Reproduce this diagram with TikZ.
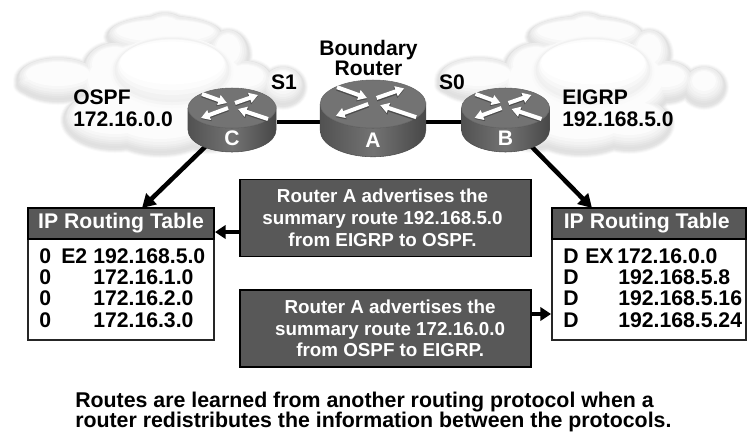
\documentclass[tikz,border=0pt]{standalone}
\usepackage{fontspec}
\setmainfont{Liberation Sans}[BoldFont={Liberation Sans Bold}]
\usetikzlibrary{arrows.meta,calc}
\lineskiplimit=-20pt
\definecolor{boxgray}{HTML}{585858}
\tikzset{
  x=0.75pt,y=-0.75pt,
  lbl/.style={font=\bfseries\fontsize{15.8}{16.5}\selectfont,align=left,text=black,inner sep=0pt},
  callout/.style={draw=black,line width=1.1pt,fill=boxgray,text=white,font=\bfseries\fontsize{14.1}{16.3}\selectfont,align=center,minimum width=218pt,minimum height=58pt,inner sep=0pt},
  link/.style={line width=3.4pt,draw=black},
  arr/.style={line width=3.4pt,draw=black,-{Triangle[length=10pt,width=11pt]}},
  shortarr/.style={line width=3.2pt,draw=black,-{Triangle[length=8pt,width=10pt]}},
  tablebody/.style={draw=black!85,line width=1.1pt,fill=white},
  tablehead/.style={draw=black,line width=1.1pt,fill=boxgray,text=white,font=\bfseries\fontsize{15.9}{17}\selectfont,minimum height=23.25pt,inner sep=0pt},
  rowtxt/.style={font=\bfseries\fontsize{15.9}{16}\selectfont,inner sep=0pt,anchor=base west},
  routertxt/.style={text=white,font=\bfseries\fontsize{15.8}{16}\selectfont},
  footnotetxt/.style={font=\bfseries\fontsize{16}{15}\selectfont,align=left,inner sep=0pt,anchor=west},
}
\newcommand{\cloudpuffs}[3]{%
  \begin{scope}[shift={(0,#2)}]
  \foreach \cx/\cy/\rx/\ry in {58/80/45/25, 40/85/27/14, 115/70/36/30, 165/37/62/24, 165/36/30/26, 228/55/25/28, 245/82/32/24, 283/87/25/23, 165/85/90/50, 115/120/55/33, 160/128/56/30, 208/124/46/30}{
    \fill[#3] (\cx,\cy) ellipse[x radius=\rx*0.75pt+#1*0.75pt,y radius=\ry*0.75pt+#1*0.75pt];
  }
  \end{scope}}
\newcommand{\softcloud}[2]{%
  \begin{scope}[shift={(#1,#2)}]
    \cloudpuffs{0}{0}{black!2}
    \cloudpuffs{-1}{0}{black!5}
    \cloudpuffs{-2}{0}{black!8}
    \cloudpuffs{-3}{0}{black!11}
    \cloudpuffs{-4}{-1}{black!12}
    \cloudpuffs{-5}{-2}{black!11}
    \cloudpuffs{-6}{-3}{black!9}
    \cloudpuffs{-7}{-4}{black!7}
    \cloudpuffs{-9}{-4}{black!5}
    \cloudpuffs{-11}{-5}{black!3}
    \cloudpuffs{-13}{-6}{black!1}
    \fill[black!2] (172,72) ellipse[x radius=46pt,y radius=27pt];
    \fill[black!4] (172,71) ellipse[x radius=44.5pt,y radius=25.5pt];
    \fill[black!6] (172,70) ellipse[x radius=43pt,y radius=24pt];
    \fill[black!5] (172,69) ellipse[x radius=42pt,y radius=23pt];
    \fill[black!3] (172,67) ellipse[x radius=41pt,y radius=21pt];
    \fill[black!1] (172,65) ellipse[x radius=40pt,y radius=19pt];
    \fill[white] (172,63) ellipse[x radius=39pt,y radius=16pt];
  \end{scope}}
\newcommand{\rarr}[2]{%
  \draw[black!70,line width=3.4pt,-{Triangle[length=7pt,width=8pt]}] ($(#1)+(0,1)$) -- ($(#2)+(0,1)$);
  \draw[white,line width=3pt,-{Triangle[length=6.5pt,width=7.5pt]}] (#1) -- (#2);}
\newcommand{\router}[5]{%
  \begin{scope}[shift={(#2,#3)},scale=#4]
    \path[left color=black!68,right color=black!72,middle color=black!55,draw=black!70,line width=0.4pt]
      (-44,20) -- (-44,42) arc[start angle=180,end angle=360,x radius=33pt,y radius=16.5pt] -- (44,20)
      arc[start angle=0,end angle=-180,x radius=33pt,y radius=15pt];
    \fill[black!55,draw=black!60,line width=0.4pt] (0,20) ellipse[x radius=33pt,y radius=15pt];
    \rarr{-30,6}{-5,15}
    \rarr{3,15}{26,7}
    \rarr{-4,20}{-31,30}
    \rarr{36,31}{6,21}
  \end{scope}
  \node[routertxt] (#1) at ($(#2,#3)+(0,50*#4)$) {#5};}
\begin{document}
\begin{tikzpicture}
\useasboundingbox (0,0) rectangle (748,433);
\fill[white] (0,0) rectangle (748,433);
\softcloud{0}{0}
\softcloud{421}{0}

\coordinate (ca) at (277,122);
\coordinate (ac) at (320,122);
\coordinate (ab) at (426,122);
\coordinate (ba) at (462,122);
\draw[link] (ca) -- (ac);
\draw[link] (ab) -- (ba);
\coordinate (cfoot) at (206,146);
\coordinate (bfoot) at (531,146);

\draw[tablebody] (28,208) rectangle (214,340);
\node[tablehead,minimum width=139.5pt] (lt) at (121,223.5) {IP Routing Table};
\draw[tablebody] (552,208) rectangle (746,340);
\node[tablehead,minimum width=145.5pt] (rt) at (649,223.5) {\kern-3.5pt IP Routing Table};
\foreach \nm/\yy/\aa/\cc in {2/284/0/172.16.1.0,3/305/0/172.16.2.0,4/327/0/172.16.3.0}{
  \node[rowtxt] (la\nm) at (39,\yy) {\aa};
  \node[rowtxt] (lc\nm) at (93,\yy) {\cc};
}
\node[rowtxt] (la1) at (39,263) {0};
\node[rowtxt] (lb1) at (61,263) {E2};
\node[rowtxt] (lc1) at (93,263) {192.168.5.0};
\foreach \nm/\yy/\cc in {2/284/192.168.5.8,3/305/192.168.5.16,4/327/192.168.5.24}{
  \node[rowtxt] (ra\nm) at (563,\yy) {D};
  \node[rowtxt] (rc\nm) at (618,\yy) {\cc};
}
\node[rowtxt] (ra1) at (563,263) {D};
\node[rowtxt] (rb1) at (585,263) {EX};
\node[rowtxt] (rc1) at (617,263) {172.16.0.0};

\node[callout] (c1) at (385.5,218) {\kern-4.5pt Router A advertises the\\\kern-4.5pt summary route 192.168.5.0\\\kern-4.5pt from EIGRP to OSPF.};
\node[callout] (c2) at (385.5,328.5) {\kern7pt Router A advertises the\\\kern7pt summary route 172.16.0.0\\\kern7pt from OSPF to EIGRP.};

\coordinate (ltin) at (142,208);
\coordinate (rtin) at (592,208);
\coordinate (c1out) at (240,232);
\coordinate (ltside) at (215,232);
\coordinate (c2out) at (531,314);
\coordinate (rtside) at (551,314);
\draw[arr] (cfoot) -- (ltin);
\draw[arr] (bfoot) -- (rtin);
\draw[shortarr] (c1out) -- (ltside);
\draw[shortarr] (c2out) -- (rtside);

\router{rc}{232}{88}{1}{C}
\router{rb}{505.5}{88}{1}{B}
\router{ra}{373}{80}{1.2}{A}

\node[lbl,anchor=west] (ospf) at (73,108) {OSPF\\172.16.0.0};
\node[lbl,anchor=west] (eigrp) at (562,108) {EIGRP\\192.168.5.0};
\node[lbl] (s1) at (284,82) {S1};
\node[lbl] (s0) at (452,82) {S0};
\node[lbl,align=center,font=\bfseries\fontsize{15.8}{15}\selectfont] (br) at (368.5,58) {Boundary\\Router};
\node[footnotetxt] (foot) at (75,412) {Routes are learned from another routing protocol when a\\router redistributes the information between the protocols.};
\end{tikzpicture}
\end{document}
